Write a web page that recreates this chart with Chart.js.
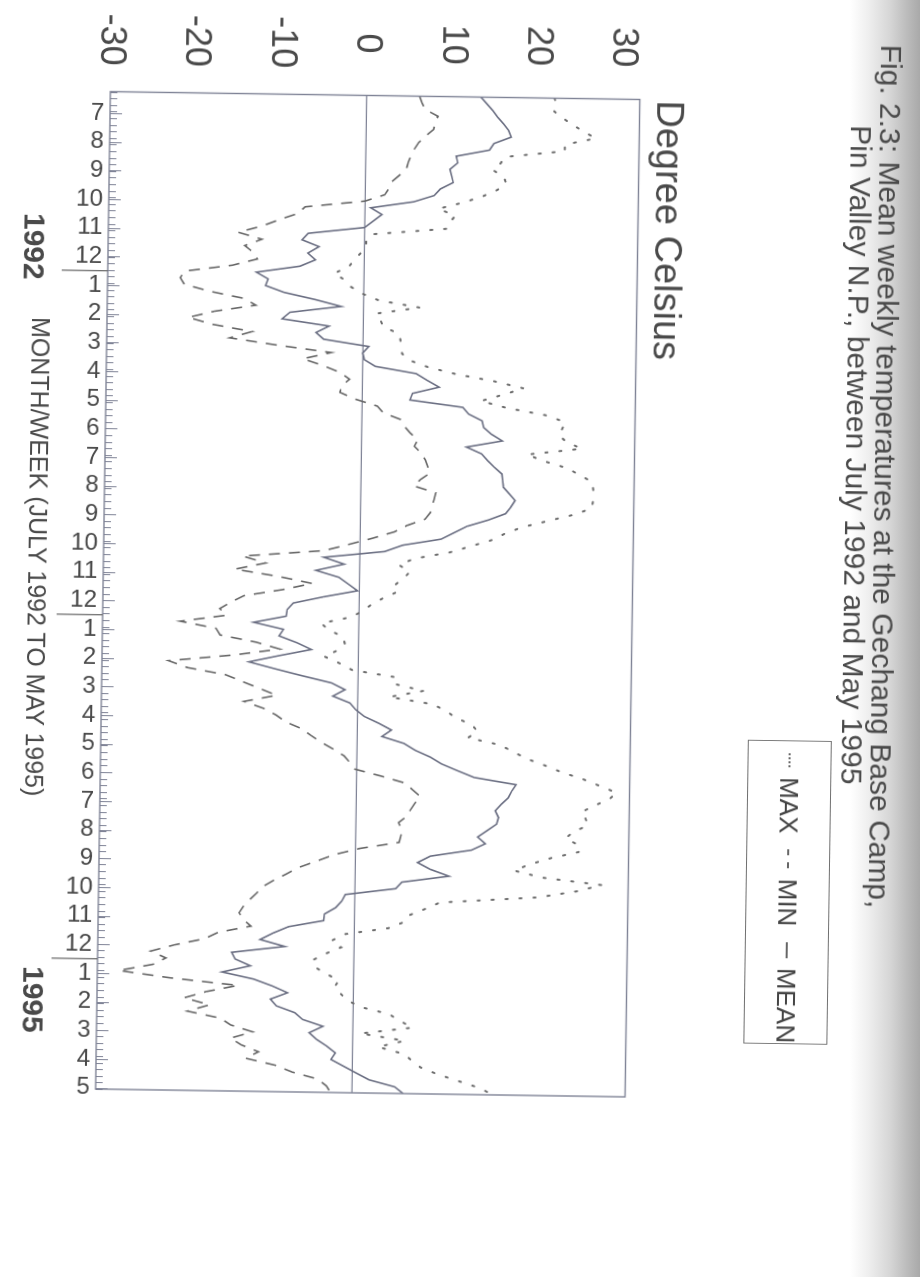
<!DOCTYPE html>
<html>
<head>
<meta charset="utf-8">
<script src="https://cdn.jsdelivr.net/npm/chart.js@4.4.1/dist/chart.umd.min.js"></script>
<style>
  html, body { margin: 0; padding: 0; }
  body {
    width: 920px; height: 1277px; overflow: hidden; position: relative;
    background: linear-gradient(to right, #ffffff 0px, #ffffff 850px, #efefef 868px, #d6d6d6 890px, #bdbdbd 906px, #a9a9a9 920px);
  }
  #tilt { position: absolute; left: 0; top: 0; width: 920px; height: 1277px;
          transform-origin: 368px 592px; transform: rotate(0.85deg); }
  #page { position: absolute; left: 0; top: 0; width: 1277px; height: 920px;
          transform-origin: 0 0; transform: translate(920px, 0) rotate(90deg);
          font-family: "Liberation Sans", Arial, sans-serif; color: #4a4a4a; }
  #page canvas { position: absolute; left: 0; top: 0; }
  .txt { position: absolute; white-space: nowrap; line-height: 1; }
  #legend { position: absolute; left: 734px; top: 86px; width: 304px; height: 84px;
            border: 1.5px solid #707070; box-sizing: border-box;
            display: flex; align-items: center; padding-left: 12px;
            font-size: 26px; color: #444; }
  #legend .smp { display: inline-block; width: 18px; height: 0; margin-right: 10px; border-top: 2px solid #666; }
  #legend .dot { border-top-style: dotted; width: 16px; }
  #legend .dash { border-top-style: dashed; width: 22px; }
  #legend .lab { margin-right: 16px; }
</style>
</head>
<body>
<div id="tilt">
<div id="page">
  <canvas id="chart" width="1277" height="920"></canvas>
  <div class="txt" style="left:37px; top:22px; font-size:30px;">Fig. 2.3: Mean weekly temperatures at the Gechang Base Camp,</div>
  <div class="txt" style="left:118px; top:51px; font-size:30px;">Pin Valley N.P., between July 1992 and May 1995</div>
  <div class="txt" style="left:96px; top:238px; font-size:38px;">Degree Celsius</div>
  <div class="txt" style="left:322px; top:871px; font-size:25px;">MONTH/WEEK (JULY 1992 TO MAY 1995)</div>
  <div class="txt" style="left:218px; top:876px; font-size:30px; font-weight:bold;">1992</div>
  <div class="txt" style="left:971px; top:866px; font-size:30px; font-weight:bold;">1995</div>
  <div id="legend">
    <span class="smp dot"></span><span class="lab">MAX</span>
    <span class="smp dash"></span><span class="lab">MIN</span>
    <span class="smp"></span><span>MEAN</span>
  </div>
</div>
</div>
<script>
// Month labels along the time axis (July 1992 .. May 1995)
const monthLabels = ['7','8','9','10','11','12','1','2','3','4','5','6',
                     '7','8','9','10','11','12','1','2','3','4','5','6',
                     '7','8','9','10','11','12','1','2','3','4','5'];
// Temperature axis labels
const tempTicks = [-30, -20, -10, 0, 10, 20, 30];

// Weekly maximum temperature (deg C)
const maxTemp = [
  22.0, 22.3, 22.0, 23.0, 24.2, 25.5, 26.9, 23.3, 23.3, 16.3,
  15.8, 14.9, 16.2, 16.5, 15.5, 13.8, 11.5, 8.6, 10.6, 10.0,
  9.7, 0.9, 0.2, 0.2, -0.5, -1.2, -1.8, -3.5, -2.2, -1.5,
  -0.2, 1.8, 6.6, 1.5, 2.0, 2.4, 4.2, 4.4, 4.5, 4.6,
  5.5, 7.7, 11.0, 15.5, 18.9, 16.5, 13.9, 17.0, 21.5, 23.8,
  23.5, 23.1, 24.0, 25.8, 19.4, 21.5, 24.2, 25.6, 27.1, 27.2,
  27.3, 27.2, 27.1, 25.0, 22.0, 19.0, 17.0, 15.5, 13.0, 10.5,
  6.4, 4.6, 5.9, 5.2, 4.2, 4.6, 2.9, 1.5, 0.5, -0.9,
  -4.4, -3.5, -1.8, -1.6, -2.3, -4.0, -2.2, -0.7, 4.4, 4.2,
  7.7, 3.7, 8.8, 10.4, 11.5, 13.4, 14.1, 13.0, 16.7, 18.3,
  19.8, 22.0, 24.0, 26.5, 28.5, 30.5, 29.6, 27.9, 26.4, 26.9,
  27.2, 25.5, 24.6, 26.1, 26.3, 23.0, 20.5, 18.6, 21.9, 28.9,
  26.0, 21.5, 10.0, 8.3, 6.4, 5.9, 4.0, -1.1, -2.6, -1.5,
  -3.3, -4.8, -4.6, -3.3, -1.7, -2.2, -1.5, -0.7, 0.9, 4.2,
  5.5, 7.0, 0.9, 6.1, 3.0, 6.0, 7.0, 8.0, 10.0, 12.5,
  15.0, 16.5
];

// Weekly minimum temperature (deg C)
const minTemp = [
  6.2, 6.5, 6.9, 8.4, 8.1, 7.9, 7.0, 6.2, 5.7, 5.3,
  5.0, 4.8, 4.0, 3.1, 2.8, 2.3, 0.0, -7.0, -7.8, -10.0,
  -12.0, -14.8, -12.0, -14.0, -13.0, -12.5, -15.4, -21.0, -21.5, -21.0,
  -18.0, -14.0, -12.6, -17.4, -20.5, -17.6, -13.0, -15.6, -10.0, -3.7,
  -7.0, -4.6, -2.6, -1.5, -2.4, -2.6, -0.8, 1.8, 2.5, 4.6,
  5.0, 5.7, 6.6, 6.2, 7.0, 7.5, 7.8, 8.1, 7.0, 6.2,
  8.8, 8.6, 8.4, 8.2, 7.6, 5.5, 4.0, 1.5, -1.3, -4.2,
  -13.7, -11.0, -14.6, -9.5, -5.5, -9.0, -13.5, -15.0, -16.3, -15.5,
  -20.9, -16.7, -16.2, -12.0, -9.2, -14.6, -22.2, -20.0, -15.5, -13.5,
  -11.5, -9.5, -13.3, -11.0, -9.5, -8.4, -6.5, -5.4, -4.2, -2.8,
  -1.5, -0.8, -0.2, 2.9, 5.7, 6.6, 7.5, 6.9, 6.4, 6.0,
  5.0, 5.4, 5.3, 5.1, 0.5, -2.5, -4.5, -6.6, -8.0, -9.5,
  -10.8, -11.5, -12.3, -13.0, -13.5, -13.0, -12.1, -15.9, -17.5, -21.0,
  -23.8, -22.0, -23.5, -27.5, -21.5, -13.5, -17.2, -19.8, -16.8, -19.4,
  -15.5, -14.3, -11.7, -14.3, -13.0, -11.0, -12.5, -9.0, -7.0, -4.0,
  -3.0, -2.5
];

// Weekly mean temperature (deg C)
const meanTemp = [
  13.4, 14.1, 14.8, 15.4, 16.1, 16.7, 17.0, 15.0, 14.5, 10.6,
  10.8, 9.9, 10.1, 10.3, 8.8, 8.1, 5.7, 0.7, 2.0, 1.0,
  0.0, -6.6, -7.3, -5.3, -6.6, -5.7, -7.5, -12.6, -11.2, -11.5,
  -9.3, -5.7, -2.6, -8.6, -9.5, -4.0, -5.5, -4.6, 0.7, 0.0,
  0.2, 1.5, 6.3, 7.6, 9.0, 5.9, 5.6, 11.8, 12.5, 14.1,
  14.3, 15.2, 16.5, 12.3, 14.1, 14.8, 15.6, 16.5, 16.6, 16.7,
  17.4, 18.1, 17.6, 17.0, 15.0, 12.5, 11.0, 9.5, 5.0, 2.9,
  -4.2, -1.8, -5.1, -2.4, -1.3, -0.2, -4.2, -7.7, -8.4, -8.5,
  -12.3, -8.8, -9.3, -7.2, -5.5, -9.3, -12.8, -9.7, -6.5, -3.1,
  -1.5, -2.9, -0.9, -0.2, 0.8, 2.5, 4.0, 2.9, 5.5, 6.8,
  8.6, 9.9, 11.8, 13.8, 18.7, 18.2, 17.8, 17.0, 16.3, 16.7,
  16.5, 15.4, 14.3, 15.2, 13.6, 8.8, 7.3, 8.8, 11.0, 5.5,
  4.8, -1.1, -1.5, -2.2, -3.5, -3.6, -7.7, -9.5, -11.0, -8.1,
  -14.3, -13.9, -12.1, -15.4, -11.7, -9.5, -7.7, -9.7, -9.0, -6.8,
  -5.9, -3.5, -5.1, -4.2, -3.0, -2.0, -2.5, -1.0, 0.5, 2.0,
  5.0, 6.0
];

// Week number of every observation (x positions)
const weekNo = meanTemp.map((_, i) => i);

const WEEKS_PER_MONTH = 4.34;
const monthTickWeek = i => (i + 0.75) * WEEKS_PER_MONTH;

const INK = '#4a4a4a';
const FRAME = '#7f8396';

// Frame round the plot, week comb on the time axis, year separators
const framePlugin = {
  id: 'framePlugin',
  afterDraw(chart) {
    const { ctx, chartArea: a, scales: { x } } = chart;
    ctx.save();
    ctx.strokeStyle = FRAME;
    ctx.lineWidth = 1.4;
    ctx.strokeRect(a.left, a.top, a.right - a.left, a.bottom - a.top);
    ctx.lineWidth = 1;
    ctx.beginPath();
    for (let w = 0; w <= x.max; w++) {
      const px = Math.round(x.getPixelForValue(w)) + 0.5;
      ctx.moveTo(px, a.bottom);
      ctx.lineTo(px, a.bottom - 7);
    }
    monthLabels.forEach((m, i) => {
      const px = Math.round(x.getPixelForValue(monthTickWeek(i))) + 0.5;
      ctx.moveTo(px, a.bottom);
      ctx.lineTo(px, a.bottom - 12);
    });
    ctx.stroke();
    ctx.strokeStyle = '#666';
    ctx.lineWidth = 1.2;
    ctx.beginPath();
    monthLabels.forEach((m, i) => {
      if (m === '1') {
        const px = x.getPixelForValue(monthTickWeek(i - 0.5));
        ctx.moveTo(px, a.bottom);
        ctx.lineTo(px, a.bottom + 46);
      }
    });
    ctx.stroke();
    ctx.restore();
  }
};

Chart.defaults.font.family = '"Liberation Sans", Arial, sans-serif';
Chart.defaults.color = INK;

new Chart(document.getElementById('chart'), {
  type: 'line',
  data: {
    labels: weekNo,
    datasets: [
      { label: 'MAX', data: maxTemp, borderColor: '#6c6c6c', borderWidth: 2, borderDash: [2, 12], borderCapStyle: 'round' },
      { label: 'MIN', data: minTemp, borderColor: '#666666', borderWidth: 1.6, borderDash: [11, 9] },
      { label: 'MEAN', data: meanTemp, borderColor: '#6a6e82', borderWidth: 1.6 }
    ]
  },
  options: {
    responsive: false,
    animation: false,
    layout: { padding: { left: 0, right: 184, top: 287.5, bottom: 0 } },
    elements: { point: { radius: 0 }, line: { tension: 0 } },
    plugins: { legend: { display: false }, tooltip: { enabled: false } },
    scales: {
      x: {
        type: 'linear', min: 0, max: 151,
        afterBuildTicks: s => { s.ticks = monthLabels.map((_, i) => ({ value: monthTickWeek(i) })); },
        afterFit: s => { s.height = 103; },
        ticks: { autoSkip: false, minRotation: 90, maxRotation: 90, padding: 6,
                 font: { size: 24 }, color: INK, callback: (v, i) => monthLabels[i] },
        grid: { display: false, drawTicks: false },
        border: { display: false }
      },
      y: {
        min: -30, max: 32,
        afterBuildTicks: s => { s.ticks = tempTicks.map(v => ({ value: v })); },
        afterFit: s => { s.width = 95.5; },
        ticks: { padding: 26, crossAlign: 'center', font: { size: 36 }, color: INK, callback: v => String(v) },
        grid: { drawTicks: false, lineWidth: 1.2,
                color: c => (c.tick && c.tick.value === 0) ? FRAME : 'rgba(0,0,0,0)' },
        border: { display: false }
      }
    }
  },
  plugins: [framePlugin]
});
</script>
</body>
</html>
